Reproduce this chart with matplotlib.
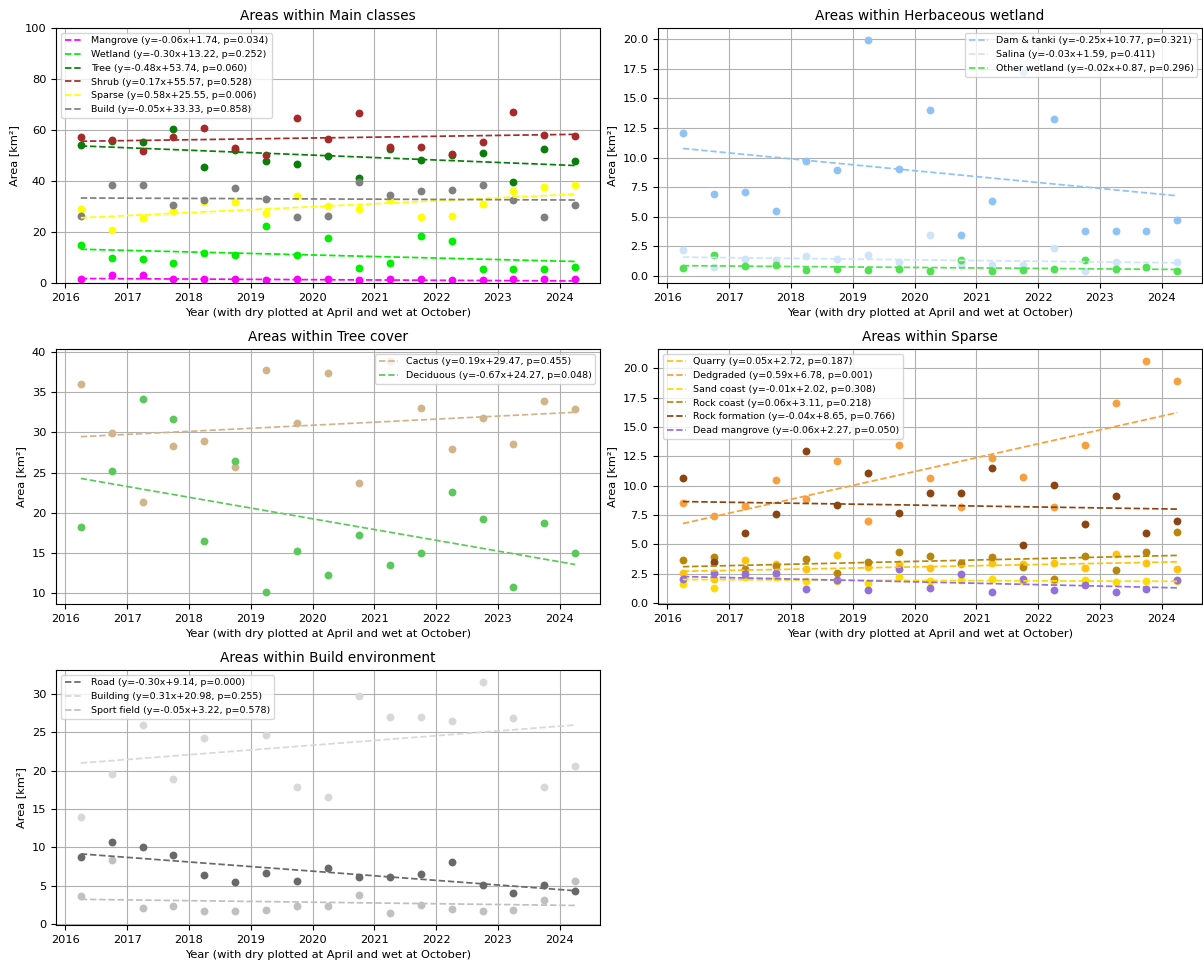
import matplotlib
matplotlib.use("Agg")
import matplotlib.pyplot as plt
from matplotlib.ticker import MultipleLocator, FormatStrFormatter
import numpy as np

# survey dates: dry season plotted at April, wet season at October
dates = []
for y in range(2016, 2025):
    dates.append(y + 0.25)
    if y < 2024:
        dates.append(y + 0.75)
dates = np.array(dates)

# --- Main classes ---
mangrove = [1.7, 3.0, 3.0, 1.4, 1.4, 1.4, 1.0, 1.4, 1.4, 1.0, 1.4, 1.4, 1.0, 1.0, 1.4, 1.4, 1.4]
wetland = [15.0, 9.6, 9.2, 7.7, 11.8, 10.9, 22.3, 10.9, 17.8, 5.7, 7.7, 18.5, 16.3, 5.5, 5.5, 5.5, 6.4]
tree = [54.3, 55.5, 55.3, 60.2, 45.6, 52.0, 47.7, 46.5, 49.7, 41.1, 52.6, 48.4, 50.3, 50.9, 39.5, 52.7, 48.0]
shrub = [57.4, 55.9, 51.8, 57.2, 60.7, 53.1, 50.0, 64.6, 56.4, 66.5, 53.5, 53.5, 50.5, 55.3, 67.2, 58.2, 57.6]
sparse = [29.0, 20.7, 25.5, 28.4, 31.6, 31.6, 27.3, 34.1, 30.3, 29.0, 32.7, 26.0, 26.3, 30.9, 35.9, 37.6, 38.4]
build = [26.4, 38.5, 38.3, 30.6, 32.6, 37.2, 33.1, 25.8, 26.4, 39.5, 34.5, 35.9, 36.6, 38.5, 32.7, 25.8, 30.6]

# --- Herbaceous wetland ---
dam_tanki = [12.07, 6.92, 7.12, 5.49, 9.73, 8.92, 19.97, 9.06, 13.98, 3.49, 6.30, 17.2, 13.3, 3.83, 3.83, 3.77, 4.73]
salina = [2.19, 0.73, 1.43, 1.35, 1.66, 1.43, 1.77, 1.15, 3.43, 0.95, 0.9, 0.9, 2.39, 0.39, 1.18, 0.8, 1.18]
other_wetland = [0.70, 1.77, 0.82, 0.96, 0.50, 0.56, 0.50, 0.62, 0.39, 1.38, 0.39, 0.50, 0.56, 1.32, 0.56, 0.76, 0.39]

# --- Tree cover ---
cactus = [36.07, 29.99, 21.3, 28.25, 28.99, 25.7, 37.77, 31.23, 37.36, 23.75, 38.95, 33.1, 27.95, 31.8, 28.57, 33.88, 32.89]
deciduous = [18.27, 25.23, 34.12, 31.68, 16.45, 26.47, 10.08, 15.25, 12.23, 17.27, 13.5, 14.96, 22.61, 19.18, 10.7, 18.77, 15.04]

# --- Sparse ---
quarry = [2.6, 2.04, 3.68, 3.3, 2.89, 4.1, 3.05, 3.35, 3.03, 3.3, 3.4, 3.3, 3.45, 3.03, 4.2, 3.45, 2.89]
dedgraded = [8.49, 7.39, 8.26, 10.47, 8.88, 12.14, 6.96, 13.47, 10.69, 8.23, 12.39, 10.78, 8.2, 13.47, 17.06, 20.65, 18.92]
sand_coast = [1.6, 1.3, 2.2, 2.2, 1.9, 1.9, 1.7, 2.27, 1.9, 1.95, 2.04, 1.9, 1.85, 1.98, 1.81, 1.85, 1.9]
rock_coast = [3.68, 3.9, 2.9, 3.17, 3.73, 2.6, 3.51, 4.33, 3.99, 3.42, 3.93, 3.11, 2.04, 4.02, 2.83, 4.33, 6.08]
rock_formation = [10.69, 3.48, 5.94, 7.55, 12.96, 8.35, 11.12, 7.69, 9.39, 9.39, 11.54, 4.95, 10.07, 6.76, 9.11, 6.0, 6.96]
dead_mangrove = [2.1, 2.55, 2.46, 2.6, 1.19, 1.98, 1.13, 2.89, 1.33, 2.46, 0.99, 2.04, 1.13, 1.53, 0.99, 1.19, 1.98]

# --- Build environment ---
road = [8.78, 10.7, 10.09, 9.0, 6.35, 5.48, 6.65, 5.57, 7.35, 6.13, 6.13, 6.48, 8.04, 5.04, 4.0, 5.04, 4.3]
building = [14.0, 19.52, 25.96, 18.96, 24.26, 27.5, 24.7, 17.8, 16.6, 29.7, 27.0, 27.0, 26.5, 31.6, 26.8, 17.8, 20.6]
sport_field = [3.6, 8.35, 2.09, 2.39, 1.65, 1.65, 1.87, 2.3, 2.3, 3.83, 1.39, 2.43, 1.96, 1.65, 1.87, 3.17, 5.6]

# linear trend per series (x = observation index): slope, intercept, p-value
panels = [
    ("Areas within Main classes", "upper left", (0, 100), [
        ("Mangrove", mangrove, "#ff00ff", -0.06, 1.74, 0.034),
        ("Wetland", wetland, "#00ee00", -0.30, 13.22, 0.252),
        ("Tree", tree, "#0a7d0a", -0.48, 53.74, 0.060),
        ("Shrub", shrub, "#a52a2a", 0.17, 55.57, 0.528),
        ("Sparse", sparse, "#ffff00", 0.58, 25.55, 0.006),
        ("Build", build, "#808080", -0.05, 33.33, 0.858),
    ]),
    ("Areas within Herbaceous wetland", "upper right", None, [
        ("Dam & tanki", dam_tanki, "#8fc3f5", -0.25, 10.77, 0.321),
        ("Salina", salina, "#cfe3f9", -0.03, 1.59, 0.411),
        ("Other wetland", other_wetland, "#50e050", -0.02, 0.87, 0.296),
    ]),
    ("Areas within Tree cover", "upper right", None, [
        ("Cactus", cactus, "#d2b48c", 0.19, 29.47, 0.455),
        ("Deciduous", deciduous, "#5cc85c", -0.67, 24.27, 0.048),
    ]),
    ("Areas within Sparse", "upper left", (-0.06, 21.63), [
        ("Quarry", quarry, "#ffc20e", 0.05, 2.72, 0.187),
        ("Dedgraded", dedgraded, "#f7a040", 0.59, 6.78, 0.001),
        ("Sand coast", sand_coast, "#ffdc00", -0.01, 2.02, 0.308),
        ("Rock coast", rock_coast, "#b8860b", 0.06, 3.11, 0.218),
        ("Rock formation", rock_formation, "#8b4513", -0.04, 8.65, 0.766),
        ("Dead mangrove", dead_mangrove, "#9370db", -0.06, 2.27, 0.050),
    ]),
    ("Areas within Build environment", "upper left", None, [
        ("Road", road, "#696969", -0.30, 9.14, 0.000),
        ("Building", building, "#d8d8d8", 0.31, 20.98, 0.255),
        ("Sport field", sport_field, "#c0c0c0", -0.05, 3.22, 0.578),
    ]),
]

fig, axes = plt.subplots(3, 2, figsize=(12.03, 9.65), dpi=100)
fig.subplots_adjust(left=0.0466, right=0.9992, top=0.971, bottom=0.0415,
                    wspace=0.107, hspace=0.259)
axes = axes.flatten()

idx = np.arange(len(dates))
for ax, (title, loc, ylim, series) in zip(axes, panels):
    for name, vals, color, slope, icpt, p in series:
        ax.scatter(dates, vals, s=32, color=color, linewidths=0, zorder=2)
        trend = slope * idx + icpt
        ax.plot(dates, trend, "--", color=color, lw=1.25, zorder=3,
                label=f"{name} (y={slope:.2f}x+{icpt:.2f}, p={p:.3f})")
    ax.set_title(title, fontsize=9.8)
    ax.set_xlabel("Year (with dry plotted at April and wet at October)", fontsize=8.2)
    ax.set_ylabel("Area [km²]", fontsize=8.2)
    ax.xaxis.set_major_locator(MultipleLocator(1))
    ax.xaxis.set_major_formatter(FormatStrFormatter("%d"))
    ax.tick_params(labelsize=8.2)
    if ylim is not None:
        ax.set_ylim(*ylim)
    ax.grid(True, color="#b0b0b0", lw=0.8)
    ax.set_axisbelow(True)
    ax.legend(loc=loc, fontsize=6.8)

axes[5].remove()

fig.savefig("out.png", dpi=100)
